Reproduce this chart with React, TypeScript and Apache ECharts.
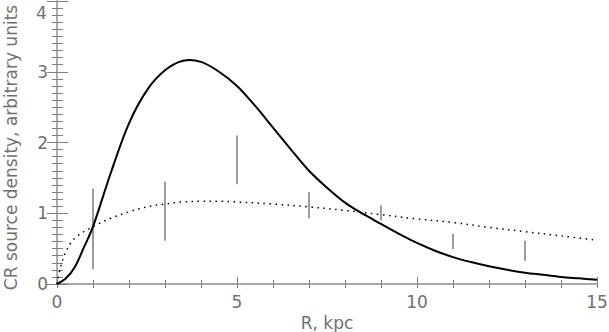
import React, { useEffect, useRef } from "react";
import * as echarts from "echarts";

// Solid curve (model source distribution)
const solidR = [0, 0.25, 0.5, 0.75, 1, 1.5, 2, 2.5, 3, 3.5, 4, 4.5, 5, 5.5, 6, 6.5, 7, 7.5, 8, 8.5, 9, 9.5, 10, 10.5, 11, 11.5, 12, 12.5, 13, 13.5, 14, 14.5, 15];
const solidV = [0, 0.08, 0.245, 0.52, 0.81, 1.58, 2.27, 2.74, 3.02, 3.155, 3.14, 3.0, 2.8, 2.52, 2.21, 1.9, 1.6, 1.36, 1.15, 0.99, 0.85, 0.71, 0.58, 0.47, 0.38, 0.31, 0.25, 0.2, 0.16, 0.13, 0.1, 0.08, 0.06];

// Dotted curve
const dotR = [0, 0.1, 0.25, 0.5, 1, 1.5, 2, 2.5, 3, 3.5, 4, 4.5, 5, 6, 7, 8, 9, 10, 11, 12, 13, 14, 15];
const dotV = [0, 0.24, 0.46, 0.65, 0.81, 0.93, 1.02, 1.09, 1.13, 1.16, 1.17, 1.17, 1.16, 1.13, 1.09, 1.04, 0.98, 0.92, 0.87, 0.8, 0.74, 0.68, 0.62];

// Error bars (observed)
const barR = [1, 3, 5, 7, 9, 11, 13];
const barLow = [0.21, 0.61, 1.41, 0.93, 0.9, 0.49, 0.33];
const barHigh = [1.35, 1.445, 2.1, 1.3, 1.11, 0.71, 0.61];

const xTicks = [0, 5, 10, 15];
const yTicks = [0, 1, 2, 3, 4];

const FONT = "DejaVu Sans";
const TXT = "#707070";
const AX = "#a8a8a8";
const TK = "#808080";

function curveSeries(points: number[][], style: any, z: number) {
  return {
    type: "custom",
    xAxisIndex: 0,
    yAxisIndex: 0,
    data: points,
    encode: { x: 0, y: 1 },
    z,
    renderItem: (params: any, api: any) => {
      if (params.dataIndex !== 0) return { type: "group", children: [] };
      const pts = points.map((p) => api.coord(p));
      return {
        type: "polyline",
        shape: { points: pts, smooth: 0.35 },
        style: { fill: "none", ...style },
      };
    },
  };
}

export default function App() {
  const ref = useRef<HTMLDivElement>(null);
  useEffect(() => {
    if (!ref.current) return;
    const chart = echarts.init(ref.current, undefined, { renderer: "svg" });
    const solid = solidR.map((r, i) => [r, solidV[i]]);
    const dotted = dotR.map((r, i) => [r, dotV[i]]);
    const bars = barR.map((r, i) => [r, barLow[i], barHigh[i]]);
    const tickStyle = { color: TK, width: 1 };
    const yMax = yTicks[yTicks.length - 1];
    chart.setOption({
      animation: false,
      grid: { left: 57, right: 12, top: 1, bottom: 48, containLabel: false, outerBoundsMode: "none" },
      graphic: [
        {
          type: "text",
          left: 36,
          top: 4,
          style: { text: String(yMax), fontFamily: FONT, fontSize: 17, fill: TXT },
        },
      ],
      xAxis: [
        {
          type: "value",
          min: xTicks[0],
          max: xTicks[xTicks.length - 1],
          interval: 5,
          position: "bottom",
          name: "R, kpc",
          nameLocation: "middle",
          nameGap: 27,
          nameTextStyle: { fontFamily: FONT, fontSize: 17, color: TXT },
          axisLine: { show: true, lineStyle: { color: AX, width: 2 } },
          axisTick: { show: true, inside: true, length: 7, lineStyle: tickStyle },
          minorTick: { show: true, splitNumber: 5, length: 4, lineStyle: tickStyle },
          axisLabel: { fontFamily: FONT, fontSize: 17, color: TXT, margin: 9 },
          splitLine: { show: false },
        },
        {
          type: "value",
          min: 0,
          max: 15,
          interval: 1,
          position: "top",
          axisLine: { show: true, lineStyle: { color: AX, width: 2 } },
          axisTick: { show: true, inside: true, length: 4, lineStyle: tickStyle },
          axisLabel: { show: false },
          splitLine: { show: false },
        },
      ],
      yAxis: [
        {
          type: "value",
          min: yTicks[0],
          max: yMax,
          interval: 1,
          position: "left",
          name: "CR source density, arbitrary units",
          nameLocation: "middle",
          nameGap: 38,
          nameTextStyle: { fontFamily: FONT, fontSize: 17, color: TXT, padding: [0, 10, 0, 0] },
          axisLine: { show: true, lineStyle: { color: AX, width: 1.5 } },
          axisTick: { show: true, inside: true, length: 11, lineStyle: tickStyle },
          minorTick: { show: true, splitNumber: 10, length: 6, lineStyle: tickStyle },
          axisLabel: {
            fontFamily: FONT,
            fontSize: 17,
            color: TXT,
            margin: 9,
            showMaxLabel: false,
          },
          splitLine: { show: false },
        },
        {
          type: "value",
          min: 0,
          max: 4,
          interval: 1,
          position: "right",
          axisLine: { show: true, lineStyle: { color: AX, width: 1.5 } },
          axisTick: { show: true, inside: true, length: 10, lineStyle: tickStyle },
          minorTick: { show: true, splitNumber: 10, length: 5, lineStyle: tickStyle },
          axisLabel: { show: false },
          splitLine: { show: false },
        },
      ],
      series: [
        {
          type: "custom",
          xAxisIndex: 0,
          yAxisIndex: 0,
          data: bars,
          encode: { x: 0, y: [1, 2] },
          renderItem: (params: any, api: any) => {
            const p1 = api.coord([api.value(0), api.value(1)]);
            const p2 = api.coord([api.value(0), api.value(2)]);
            return {
              type: "line",
              shape: { x1: p1[0], y1: p1[1], x2: p2[0], y2: p2[1] },
              style: { stroke: "#7a7a7a", lineWidth: 1.5 },
            };
          },
        },
        curveSeries(dotted, { stroke: "#000", lineWidth: 1.5, lineDash: [1.5, 4.5] }, 3),
        curveSeries(solid, { stroke: "#000", lineWidth: 2 }, 4),
      ],
    });
    return () => chart.dispose();
  }, []);
  return <div ref={ref} style={{ position: "fixed", left: 0, top: 0, width: 609, height: 332, background: "#fff" }} />;
}
